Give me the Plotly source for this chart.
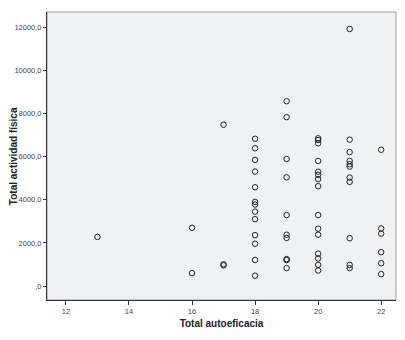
import plotly.graph_objects as go

# Data (x = Total autoeficacia, y = Total actividad física)
x13 = [13]
y13 = [2280]
x16 = [16, 16]
y16 = [2700, 600]
x17 = [17, 17, 17]
y17 = [7480, 1010, 960]
x18 = [18] * 13
y18 = [6830, 6390, 5850, 5310, 4580, 3900, 3780, 3450, 3100, 2360, 1960, 1210, 480]
x19 = [19] * 10
y19 = [8570, 7830, 5890, 5040, 3290, 2380, 2230, 1250, 1200, 830]
x20 = [20] * 15
y20 = [6850, 6770, 6620, 5800, 5300, 5160, 4960, 4630, 3290, 2660, 2380, 1500, 1280, 980, 720]
x21 = [21] * 11
y21 = [11920, 6790, 6210, 5800, 5650, 5540, 5030, 4830, 2220, 980, 830]
x22 = [22] * 6
y22 = [6320, 2670, 2430, 1570, 1060, 550]

xs = x13 + x16 + x17 + x18 + x19 + x20 + x21 + x22
ys = y13 + y16 + y17 + y18 + y19 + y20 + y21 + y22

x_ticks = [12, 14, 16, 18, 20, 22]
y_ticks = [0, 2000, 4000, 6000, 8000, 10000, 12000]
y_ticktext = [",0", "2000,0", "4000,0", "6000,0", "8000,0", "10000,0", "12000,0"]

fig = go.Figure()
fig.add_trace(go.Scatter(
    x=xs, y=ys, mode="markers",
    marker=dict(symbol="circle-open", size=5.5, color="#222222", line=dict(width=1)),
    showlegend=False, hoverinfo="skip"))

font_family = "Liberation Sans, Arial, sans-serif"
fig.update_layout(
    width=405, height=340,
    margin=dict(l=39, r=17, t=4, b=48),
    paper_bgcolor="white",
    plot_bgcolor="#f0f1f3",
    font=dict(family=font_family, size=8, color="#333333"),
    shapes=[dict(type="rect", xref="paper", yref="paper", x0=0, y0=0, x1=1, y1=1,
                 line=dict(color="#9a9a9a", width=1), layer="below")],
    annotations=[dict(text="<b>Total actividad física</b>", textangle=-90,
                      xref="paper", yref="paper", x=-0.097, y=0.5,
                      xanchor="center", yanchor="middle", showarrow=False,
                      font=dict(size=10, color="#222222"))],
)
fig.update_xaxes(
    range=[11.4, 22.47], tickvals=x_ticks, ticktext=[str(v) for v in x_ticks],
    showgrid=False, zeroline=False, showline=True, linecolor="#333333", linewidth=1,
    ticks="outside", ticklen=4, tickcolor="#333333", automargin=False,
    tickfont=dict(size=7.5, color="#444444"),
    title=dict(text="<b>Total autoeficacia</b>", font=dict(size=10, color="#222222"), standoff=4),
)
fig.update_yaxes(
    range=[-648, 12708], tickvals=y_ticks, ticktext=y_ticktext,
    showgrid=False, zeroline=False, showline=True, linecolor="#333333", linewidth=1,
    ticks="outside", ticklen=3, tickcolor="#333333", automargin=False,
    tickfont=dict(size=7.5, color="#444444"),
)

fig.write_html("out.html")
